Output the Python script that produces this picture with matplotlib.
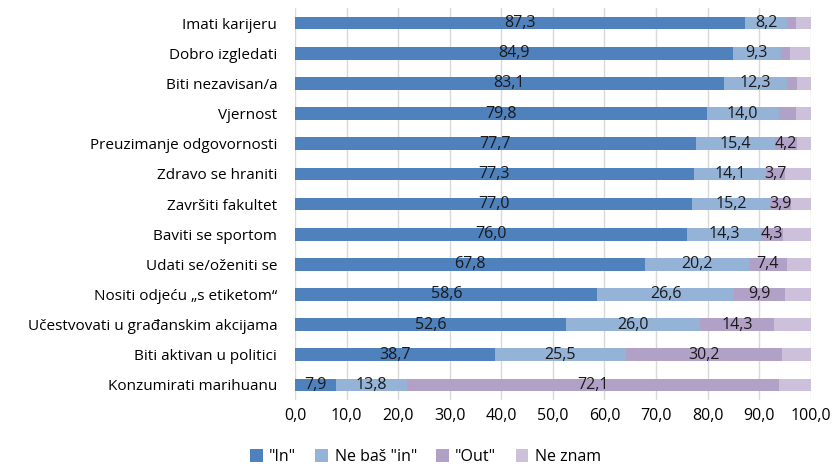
import numpy as np
import matplotlib.pyplot as plt

plt.rcParams['font.family'] = ['Open Sans', 'DejaVu Sans']

kategorije = ['Imati karijeru', 'Dobro izgledati', 'Biti nezavisan/a', 'Vjernost',
              'Preuzimanje odgovornosti', 'Zdravo se hraniti', 'Završiti fakultet',
              'Baviti se sportom', 'Udati se/oženiti se', 'Nositi odjeću „s etiketom“',
              'Učestvovati u građanskim akcijama', 'Biti aktivan u politici',
              'Konzumirati marihuanu']

in_ = [87.3, 84.9, 83.1, 79.8, 77.7, 77.3, 77.0, 76.0, 67.8, 58.6, 52.6, 38.7, 7.9]
ne_bas_in = [8.2, 9.3, 12.3, 14.0, 15.4, 14.1, 15.2, 14.3, 20.2, 26.6, 26.0, 25.5, 13.8]
out = [1.6, 1.8, 1.9, 3.3, 4.2, 3.7, 3.9, 4.3, 7.4, 9.9, 14.3, 30.2, 72.1]
ne_znam = [2.9, 3.9, 2.7, 2.9, 2.7, 4.9, 3.9, 5.4, 4.6, 4.9, 7.1, 5.6, 6.2]

serije = [('"In"', in_, '#4f81bd', True),
          ('Ne baš "in"', ne_bas_in, '#95b3d7', True),
          ('"Out"', out, '#b2a1c7', True),
          ('Ne znam', ne_znam, '#ccc0da', False)]

fig = plt.figure(figsize=(8.34, 4.69), dpi=100)
ax = fig.add_axes([0.354, 0.147, 0.618, 0.836])

y = np.arange(len(kategorije))
lijevo = np.zeros(len(kategorije))
for naziv, vrijednosti, boja, oznaka in serije:
    v = np.array(vrijednosti)
    ax.barh(y, v, left=lijevo, height=0.42, color=boja, label=naziv, zorder=2)
    if oznaka:
        for yi, (l, w) in enumerate(zip(lijevo, v)):
            if w >= 3.5:
                ax.text(l + w / 2, yi, f'{w:.1f}'.replace('.', ','), ha='center',
                        va='center', fontsize=11.5, color='#1a1a1a', zorder=3)
    lijevo += v

ax.set_xlim(0, 100)
ax.set_ylim(len(kategorije) - 0.5, -0.5)
ax.set_yticks(y)
ax.set_yticklabels(kategorije, fontsize=11)
ax.set_xticks(np.arange(0, 101, 10))
ax.set_xticklabels([f'{t:.1f}'.replace('.', ',') for t in np.arange(0, 101, 10)], fontsize=11.5)
ax.tick_params(axis='y', length=0, pad=13)
ax.tick_params(axis='x', length=0, pad=6)
ax.grid(axis='x', color='#d9d9d9', linewidth=1, zorder=0)
for s in ax.spines.values():
    s.set_visible(False)

fig.legend(loc='lower center', bbox_to_anchor=(0.51, -0.022), ncol=4, frameon=False,
           fontsize=11.5, handlelength=0.8, handleheight=0.8, columnspacing=1.2,
           handletextpad=0.4)

fig.savefig('out.png', dpi=100)
